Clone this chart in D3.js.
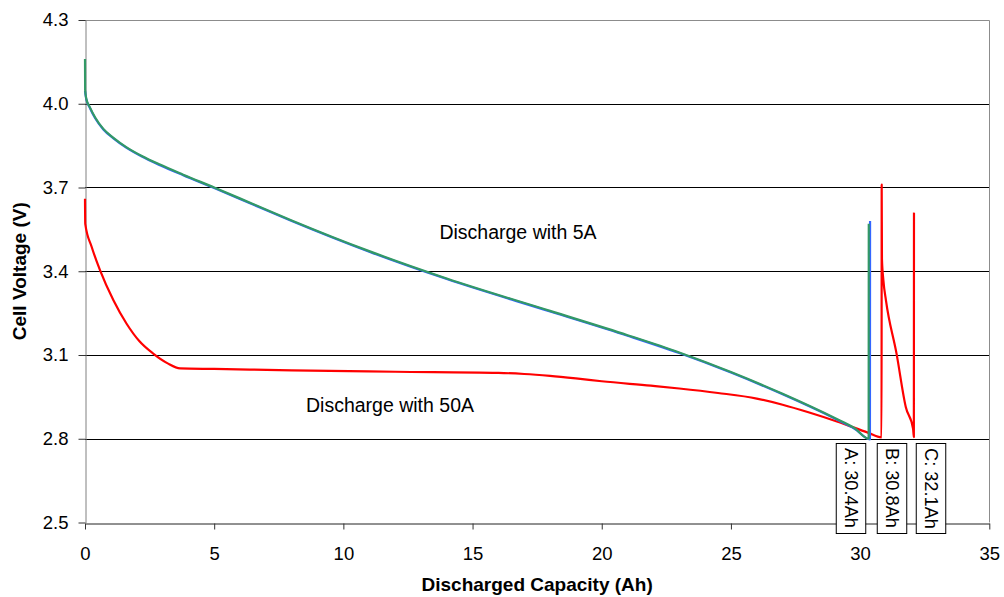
<!DOCTYPE html>
<html>
<head>
<meta charset="utf-8">
<script src="https://cdn.jsdelivr.net/npm/d3@7"></script>
<style>
  html, body { margin: 0; padding: 0; background: #fff; }
  svg { display: block; font-family: "Liberation Sans", Arial, sans-serif; }
</style>
</head>
<body>
<svg id="chart" width="1004" height="597"></svg>
<script>
// Axis ticks
const xTicks = [0, 5, 10, 15, 20, 25, 30, 35];
const yTicks = [2.5, 2.8, 3.1, 3.4, 3.7, 4.0, 4.3];

// 5 A discharge, first run (blue)
const capacity5A = [0, 0.05, 0.19, 0.4, 0.71, 1.1, 1.61, 2.2, 2.9, 3.8, 5, 6.5, 8, 11, 14, 18, 21, 23, 25, 27, 29, 29.8, 30.38, 30.385];
const voltage5A  = [4.046, 4.016, 3.985, 3.947, 3.908, 3.876, 3.842, 3.811, 3.78, 3.744, 3.698, 3.639, 3.58, 3.47, 3.372, 3.256, 3.169, 3.107, 3.037, 2.959, 2.873, 2.835, 2.798, 3.58];

// 5 A discharge, second run (green)
const capacity5Ab = [0, 0.005, 0.05, 0.19, 0.4, 0.71, 1.1, 1.61, 2.2, 2.9, 3.8, 5, 6.5, 8, 11, 14, 18, 21, 23, 25, 27, 29, 29.8, 30.33, 30.335];
const voltage5Ab  = [4.16, 4.05, 4.018, 3.987, 3.95, 3.91, 3.878, 3.844, 3.813, 3.782, 3.746, 3.7, 3.641, 3.582, 3.472, 3.374, 3.258, 3.171, 3.109, 3.039, 2.961, 2.875, 2.837, 2.8, 3.57];

// 50 A discharge, with the two rest/recovery steps
const capacity50A = [0, 0.01, 0.26, 0.58, 1.1, 1.61, 2.1, 2.64, 3.2, 3.68, 5, 8, 12, 16, 17, 18, 19, 20, 21.9, 23, 24.5, 26, 27, 28, 29.1, 30.3, 30.83, 30.835, 30.845, 30.9, 31.0, 31.41, 31.77, 32.05, 32.08, 32.085];
const voltage50A  = [3.66, 3.57, 3.487, 3.404, 3.296, 3.212, 3.15, 3.105, 3.07, 3.052, 3.05, 3.045, 3.04, 3.036, 3.032, 3.025, 3.016, 3.006, 2.99, 2.98, 2.964, 2.944, 2.922, 2.895, 2.862, 2.822, 2.805, 3.71, 3.445, 3.368, 3.296, 3.105, 2.913, 2.836, 2.806, 3.61];

// End-of-discharge markers
const endLabels = ["A: 30.4Ah", "B: 30.8Ah", "C: 32.1Ah"];
const endCapacity = [30.4, 30.8, 32.1];

// Curve annotations
const annotations = ["Discharge with 5A", "Discharge with 50A"];

// ---- layout ----
const W = 1004, H = 597;
const plot = { left: 85, right: 989.3, top: 20, bottom: 522.5 };
const labelDx = [-19, 11, 16.5];          // horizontal shift of each marker box from its capacity
const annotationPos = [[518, 239], [390, 412]]; // text anchor positions (px)

const svg = d3.select("#chart");
svg.append("rect").attr("width", W).attr("height", H).attr("fill", "#fff");

const x = d3.scaleLinear().domain([0, 35]).range([plot.left, plot.right]);
const y = d3.scaleLinear().domain([2.5, 4.3]).range([plot.bottom, plot.top]);

// Horizontal gridlines
svg.append("g").selectAll("line")
  .data(yTicks.filter(v => v > 2.5 && v < 4.3))
  .join("line")
  .attr("x1", plot.left).attr("x2", plot.right)
  .attr("y1", d => Math.round(y(d)) + 0.5).attr("y2", d => Math.round(y(d)) + 0.5)
  .attr("stroke", "#000").attr("stroke-width", 1);

// Plot frame (top and right)
svg.append("path")
  .attr("d", `M${plot.left},${Math.round(plot.top) + 0.5}H${Math.round(plot.right) + 0.5}V${plot.bottom}`)
  .attr("fill", "none").attr("stroke", "#8c8c8c").attr("stroke-width", 1);

// Y axis
const yAxis = svg.append("g")
  .attr("transform", `translate(${Math.round(plot.left) + 0.5},0)`)
  .call(d3.axisLeft(y).tickValues(yTicks).tickFormat(d3.format(".1f")).tickSize(7).tickPadding(10).tickSizeOuter(0));
yAxis.select(".domain").attr("stroke", "#808080");
yAxis.selectAll(".tick line").attr("stroke", "#333");
yAxis.selectAll(".tick text").attr("font-size", 18.5).attr("fill", "#000")
  .attr("font-family", "'Liberation Sans', Arial, sans-serif");

// X axis
const xAxis = svg.append("g")
  .attr("transform", `translate(0,${Math.round(plot.bottom) + 0.5})`)
  .call(d3.axisBottom(x).tickValues(xTicks).tickFormat(d3.format("d")).tickSize(6).tickPadding(17).tickSizeOuter(0));
xAxis.select(".domain").attr("stroke", "#222");
xAxis.selectAll(".tick line").attr("stroke", "#333");
xAxis.selectAll(".tick text").attr("font-size", 18.5).attr("fill", "#000")
  .attr("font-family", "'Liberation Sans', Arial, sans-serif");

// Axis titles
svg.append("text")
  .attr("x", (plot.left + plot.right) / 2).attr("y", 591)
  .attr("text-anchor", "middle").attr("font-size", 19).attr("font-weight", "bold")
  .text("Discharged Capacity (Ah)");
svg.append("text")
  .attr("transform", `translate(26,${(plot.top + plot.bottom) / 2}) rotate(-90)`)
  .attr("text-anchor", "middle").attr("font-size", 19).attr("font-weight", "bold")
  .text("Cell Voltage (V)");

// Curves
const line = d3.line().x(d => x(d[0])).y(d => y(d[1])).curve(d3.curveMonotoneX);
const series = [
  { xs: capacity50A, ys: voltage50A, color: "#ff0000" },
  { xs: capacity5A, ys: voltage5A, color: "#3366ff" },
  { xs: capacity5Ab, ys: voltage5Ab, color: "#339966" }
];
svg.append("g").selectAll("path")
  .data(series)
  .join("path")
  .attr("d", s => line(s.xs.map((c, i) => [c, s.ys[i]])))
  .attr("fill", "none")
  .attr("stroke", s => s.color)
  .attr("stroke-width", 2.2)
  .attr("stroke-linejoin", "round");

// Curve annotations
svg.append("g").selectAll("text")
  .data(annotations)
  .join("text")
  .attr("x", (d, i) => annotationPos[i][0])
  .attr("y", (d, i) => annotationPos[i][1])
  .attr("text-anchor", "middle")
  .attr("font-size", 19.5)
  .text(d => d);

// End-of-discharge marker boxes (vertical text)
const boxW = 29.5, boxTop = 443, boxH = 90;
const boxes = svg.append("g").selectAll("g")
  .data(endLabels)
  .join("g")
  .attr("transform", (d, i) => `translate(${Math.round(x(endCapacity[i]) + labelDx[i])},0)`);
boxes.append("rect")
  .attr("x", -boxW / 2).attr("y", boxTop + 0.5)
  .attr("width", boxW).attr("height", boxH)
  .attr("fill", "#fff").attr("stroke", "#000").attr("stroke-width", 1);
boxes.append("text")
  .attr("transform", `translate(0,${boxTop + 5}) rotate(90)`)
  .attr("dy", "0.35em")
  .attr("font-size", 18.2)
  .text(d => d);
</script>
</body>
</html>
